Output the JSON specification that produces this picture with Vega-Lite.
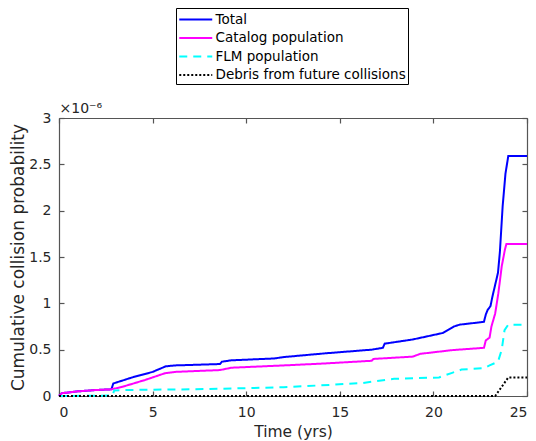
{
  "$schema": "https://vega.github.io/schema/vega-lite/v6.json",
  "width": 468,
  "height": 278,
  "autosize": {"type": "none"},
  "padding": {"left": 59, "top": 118, "right": 9, "bottom": 45},
  "background": "white",
  "data": {"values": [
    {"t": 0, "series": "Total", "p": 0},
    {"t": 0.15, "series": "Total", "p": 0.03e-6},
    {"t": 1, "series": "Total", "p": 0.05e-6},
    {"t": 2, "series": "Total", "p": 0.065e-6},
    {"t": 2.8, "series": "Total", "p": 0.072e-6},
    {"t": 2.9, "series": "Total", "p": 0.135e-6},
    {"t": 3.9, "series": "Total", "p": 0.2e-6},
    {"t": 5, "series": "Total", "p": 0.26e-6},
    {"t": 5.7, "series": "Total", "p": 0.32e-6},
    {"t": 6.2, "series": "Total", "p": 0.33e-6},
    {"t": 8.6, "series": "Total", "p": 0.345e-6},
    {"t": 8.7, "series": "Total", "p": 0.37e-6},
    {"t": 9.2, "series": "Total", "p": 0.385e-6},
    {"t": 11.5, "series": "Total", "p": 0.405e-6},
    {"t": 12, "series": "Total", "p": 0.42e-6},
    {"t": 14.2, "series": "Total", "p": 0.46e-6},
    {"t": 16.7, "series": "Total", "p": 0.5e-6},
    {"t": 17.3, "series": "Total", "p": 0.52e-6},
    {"t": 17.4, "series": "Total", "p": 0.565e-6},
    {"t": 18.9, "series": "Total", "p": 0.61e-6},
    {"t": 20.5, "series": "Total", "p": 0.68e-6},
    {"t": 21.1, "series": "Total", "p": 0.75e-6},
    {"t": 21.4, "series": "Total", "p": 0.77e-6},
    {"t": 22.7, "series": "Total", "p": 0.8e-6},
    {"t": 22.8, "series": "Total", "p": 0.88e-6},
    {"t": 22.9, "series": "Total", "p": 0.93e-6},
    {"t": 23.05, "series": "Total", "p": 0.97e-6},
    {"t": 23.15, "series": "Total", "p": 1.07e-6},
    {"t": 23.3, "series": "Total", "p": 1.2e-6},
    {"t": 23.45, "series": "Total", "p": 1.33e-6},
    {"t": 23.55, "series": "Total", "p": 1.55e-6},
    {"t": 23.7, "series": "Total", "p": 2.05e-6},
    {"t": 23.85, "series": "Total", "p": 2.4e-6},
    {"t": 24.0, "series": "Total", "p": 2.59e-6},
    {"t": 25, "series": "Total", "p": 2.59e-6},

    {"t": 0, "series": "Catalog population", "p": 0},
    {"t": 0.15, "series": "Catalog population", "p": 0.03e-6},
    {"t": 1, "series": "Catalog population", "p": 0.05e-6},
    {"t": 2, "series": "Catalog population", "p": 0.065e-6},
    {"t": 2.8, "series": "Catalog population", "p": 0.072e-6},
    {"t": 3.4, "series": "Catalog population", "p": 0.1e-6},
    {"t": 4.6, "series": "Catalog population", "p": 0.173e-6},
    {"t": 5.65, "series": "Catalog population", "p": 0.245e-6},
    {"t": 6.2, "series": "Catalog population", "p": 0.26e-6},
    {"t": 8.6, "series": "Catalog population", "p": 0.28e-6},
    {"t": 9.2, "series": "Catalog population", "p": 0.305e-6},
    {"t": 12, "series": "Catalog population", "p": 0.33e-6},
    {"t": 14.1, "series": "Catalog population", "p": 0.35e-6},
    {"t": 16.7, "series": "Catalog population", "p": 0.38e-6},
    {"t": 16.8, "series": "Catalog population", "p": 0.4e-6},
    {"t": 18.9, "series": "Catalog population", "p": 0.425e-6},
    {"t": 19.3, "series": "Catalog population", "p": 0.455e-6},
    {"t": 21.0, "series": "Catalog population", "p": 0.495e-6},
    {"t": 22.7, "series": "Catalog population", "p": 0.52e-6},
    {"t": 22.8, "series": "Catalog population", "p": 0.6e-6},
    {"t": 23.0, "series": "Catalog population", "p": 0.63e-6},
    {"t": 23.1, "series": "Catalog population", "p": 0.75e-6},
    {"t": 23.3, "series": "Catalog population", "p": 0.89e-6},
    {"t": 23.47, "series": "Catalog population", "p": 1.11e-6},
    {"t": 23.65, "series": "Catalog population", "p": 1.4e-6},
    {"t": 23.82, "series": "Catalog population", "p": 1.58e-6},
    {"t": 23.9, "series": "Catalog population", "p": 1.64e-6},
    {"t": 25, "series": "Catalog population", "p": 1.64e-6},

    {"t": 0, "series": "FLM population", "p": 0},
    {"t": 2.85, "series": "FLM population", "p": 0.005e-6},
    {"t": 2.95, "series": "FLM population", "p": 0.06e-6},
    {"t": 3.5, "series": "FLM population", "p": 0.065e-6},
    {"t": 6, "series": "FLM population", "p": 0.07e-6},
    {"t": 8, "series": "FLM population", "p": 0.075e-6},
    {"t": 10, "series": "FLM population", "p": 0.085e-6},
    {"t": 12, "series": "FLM population", "p": 0.095e-6},
    {"t": 14, "series": "FLM population", "p": 0.115e-6},
    {"t": 16.2, "series": "FLM population", "p": 0.14e-6},
    {"t": 17.9, "series": "FLM population", "p": 0.185e-6},
    {"t": 20.3, "series": "FLM population", "p": 0.2e-6},
    {"t": 21.0, "series": "FLM population", "p": 0.25e-6},
    {"t": 21.5, "series": "FLM population", "p": 0.285e-6},
    {"t": 22.7, "series": "FLM population", "p": 0.3e-6},
    {"t": 23.0, "series": "FLM population", "p": 0.33e-6},
    {"t": 23.45, "series": "FLM population", "p": 0.37e-6},
    {"t": 23.65, "series": "FLM population", "p": 0.5e-6},
    {"t": 23.8, "series": "FLM population", "p": 0.71e-6},
    {"t": 24.0, "series": "FLM population", "p": 0.77e-6},
    {"t": 25, "series": "FLM population", "p": 0.77e-6},

    {"t": 0, "series": "Debris from future collisions", "p": 0},
    {"t": 23.3, "series": "Debris from future collisions", "p": 0},
    {"t": 24.0, "series": "Debris from future collisions", "p": 0.2e-6},
    {"t": 25, "series": "Debris from future collisions", "p": 0.2e-6}
  ]},
  "layer": [
    {
      "mark": {"type": "line", "opacity": 0},
      "encoding": {
        "x": {"field": "t", "type": "quantitative",
              "axis": {"orient": "top", "offset": -278, "domain": false, "labels": false, "title": null, "ticks": true, "tickSize": 5,
                       "values": [0, 5, 10, 15, 20, 25]}},
        "y": {"field": "p", "type": "quantitative",
              "axis": {"orient": "right", "offset": -468, "domain": false, "labels": false, "title": null, "ticks": true, "tickSize": 5,
                       "values": [0, 0.5e-6, 1e-6, 1.5e-6, 2e-6, 2.5e-6, 3e-6]}}
      }
    },
    {
      "mark": {"type": "line", "opacity": 0},
      "encoding": {
        "x": {"field": "t", "type": "quantitative",
              "axis": {"orient": "bottom", "offset": -278, "domain": false, "labels": false, "title": null, "ticks": true, "tickSize": 5,
                       "values": [0, 5, 10, 15, 20, 25]}},
        "y": {"field": "p", "type": "quantitative",
              "axis": {"orient": "left", "offset": -468, "domain": false, "labels": false, "title": null, "ticks": true, "tickSize": 5,
                       "values": [0, 0.5e-6, 1e-6, 1.5e-6, 2e-6, 2.5e-6, 3e-6]}}
      }
    },
    {
      "mark": {"type": "line", "opacity": 0},
      "encoding": {
        "x": {"field": "t", "type": "quantitative",
              "axis": {"orient": "top", "title": "×10⁻⁶", "labels": false, "ticks": false,
                       "titleX": 0, "titleY": -3, "titleAlign": "left", "titleBaseline": "bottom",
                       "titleAnchor": "start", "titleFontSize": 14}},
        "y": {"field": "p", "type": "quantitative",
              "axis": {"orient": "right", "title": null, "labels": false, "ticks": false}}
      }
    },
    {
      "mark": {"type": "line", "strokeWidth": 2},
      "encoding": {
        "x": {"field": "t", "type": "quantitative", "scale": {"domain": [0, 25], "nice": false},
              "axis": {"orient": "bottom", "title": "Time (yrs)", "ticks": false, "values": [0, 5, 10, 15, 20, 25]}},
        "y": {"field": "p", "type": "quantitative", "scale": {"domain": [0, 3e-6], "nice": false},
              "axis": {"orient": "left", "title": "Cumulative collision probability", "ticks": false,
                       "values": [0, 0.5e-6, 1e-6, 1.5e-6, 2e-6, 2.5e-6, 3e-6],
                       "labelExpr": "format(datum.value*1e6, '~g')"}},
        "color": {"field": "series", "type": "nominal",
                  "scale": {"domain": ["Total", "Catalog population", "FLM population", "Debris from future collisions"],
                            "range": ["#0000ff", "#ff00ff", "#00ffff", "#000000"]},
                  "legend": {"title": null}},
        "strokeDash": {"field": "series", "type": "nominal",
                       "scale": {"domain": ["Total", "Catalog population", "FLM population", "Debris from future collisions"],
                                 "range": [[1, 0], [1, 0], [8, 6], [2, 2]]},
                       "legend": {"title": null}}
      }
    }
  ],
  "resolve": {"axis": {"x": "independent", "y": "independent"}},
  "config": {
    "view": {"stroke": null},
    "axis": {
      "grid": false,
      "domainColor": "#555555",
      "domainWidth": 1.2,
      "tickColor": "#555555",
      "tickWidth": 1.2,
      "labelFont": "DejaVu Sans",
      "labelFontSize": 14,
      "labelColor": "#262626",
      "titleFont": "DejaVu Sans",
      "titleFontSize": 15.5,
      "titleFontWeight": "normal",
      "titleColor": "#262626"
    },
    "axisBottom": {"labelPadding": 9, "titlePadding": 5},
    "axisLeft": {"labelPadding": 8, "titlePadding": 1, "titleFontSize": 17},
    "legend": {
      "orient": "none",
      "legendX": 117,
      "legendY": -110,
      "strokeColor": "#000000",
      "fillColor": "white",
      "padding": 2,
      "symbolType": "M-1,0H3",
      "symbolSize": 272,
      "symbolStrokeWidth": 2,
      "labelFont": "DejaVu Sans",
      "labelFontSize": 13.5,
      "labelColor": "#000000",
      "labelLimit": 0,
      "labelOffset": 18.5,
      "rowPadding": 2.5
    }
  }
}
